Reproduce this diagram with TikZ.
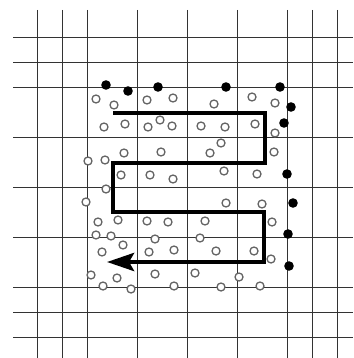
\documentclass[tikz,border=0pt]{standalone}
\usetikzlibrary{arrows.meta}
\definecolor{gridcol}{HTML}{333333}
\definecolor{ringcol}{HTML}{656565}
\begin{document}
\begin{tikzpicture}[x=1pt,y=-1pt,
  gridline/.style={draw=gridcol,line width=1.2pt},
  ring/.style={draw=ringcol,line width=1.3pt,fill=white},
  blackdot/.style={fill=black},
  route/.style={draw=black,line width=4.5pt,line join=miter,line cap=butt,
    -{Stealth[length=27pt,width=18pt,inset=5pt]}}]
\useasboundingbox (0,0) rectangle (353,358);
% grid
\foreach \v in {37.7,62.7,87.7,137.7,187.7,237.7,287.7,312.7,337.7}{
  \draw[gridline] (\v,10) -- (\v,358);
  \draw[gridline] (13,\v) -- (353,\v);
}
% open circles
\foreach \p in {(96,99),(114,105),(147,100),(173,98),(214,104),(252,97),(275,103),
  (104,127),(125,124),(148,127),(160,120),(172,126),(201,126),(225,127),(255,124),(275,133),
  (221,143),(88,161),(105,160),(124,153),(161,152),(210,153),(274,152),
  (121,175),(150,175),(173,179),(224,171),(257,174),(106,189),
  (86,202),(226,203),(262,204),
  (98,222),(118,220),(147,221),(168,222),(205,221),(272,222),
  (96,235),(111,236),(123,245),(155,239),(200,238),
  (102,252),(149,252),(174,250),(216,251),(254,251),(271,259),
  (91,275),(117,278),(155,274),(195,273),(239,277),
  (103,286),(131,289),(174,286),(221,287),(260,286)}{
  \path[ring] \p circle[radius=4];
}
% filled dots
\foreach \p in {(106,85),(128,91),(158,87),(226,87),(280,87),(291,107),(284,123),
  (287,174),(293,203),(288,234),(289,266)}{
  \fill[blackdot] \p circle[radius=4.8];
}
% route
\coordinate (s) at (113,113);
\coordinate (a) at (265,113);
\coordinate (b) at (265,163);
\coordinate (c) at (113,163);
\coordinate (d) at (113,212);
\coordinate (e) at (264,212);
\coordinate (f) at (264,262);
\coordinate (t) at (107,262);
\draw[route] (s) -- (a) -- (b) -- (c) -- (d) -- (e) -- (f) -- (t);
\end{tikzpicture}
\end{document}
